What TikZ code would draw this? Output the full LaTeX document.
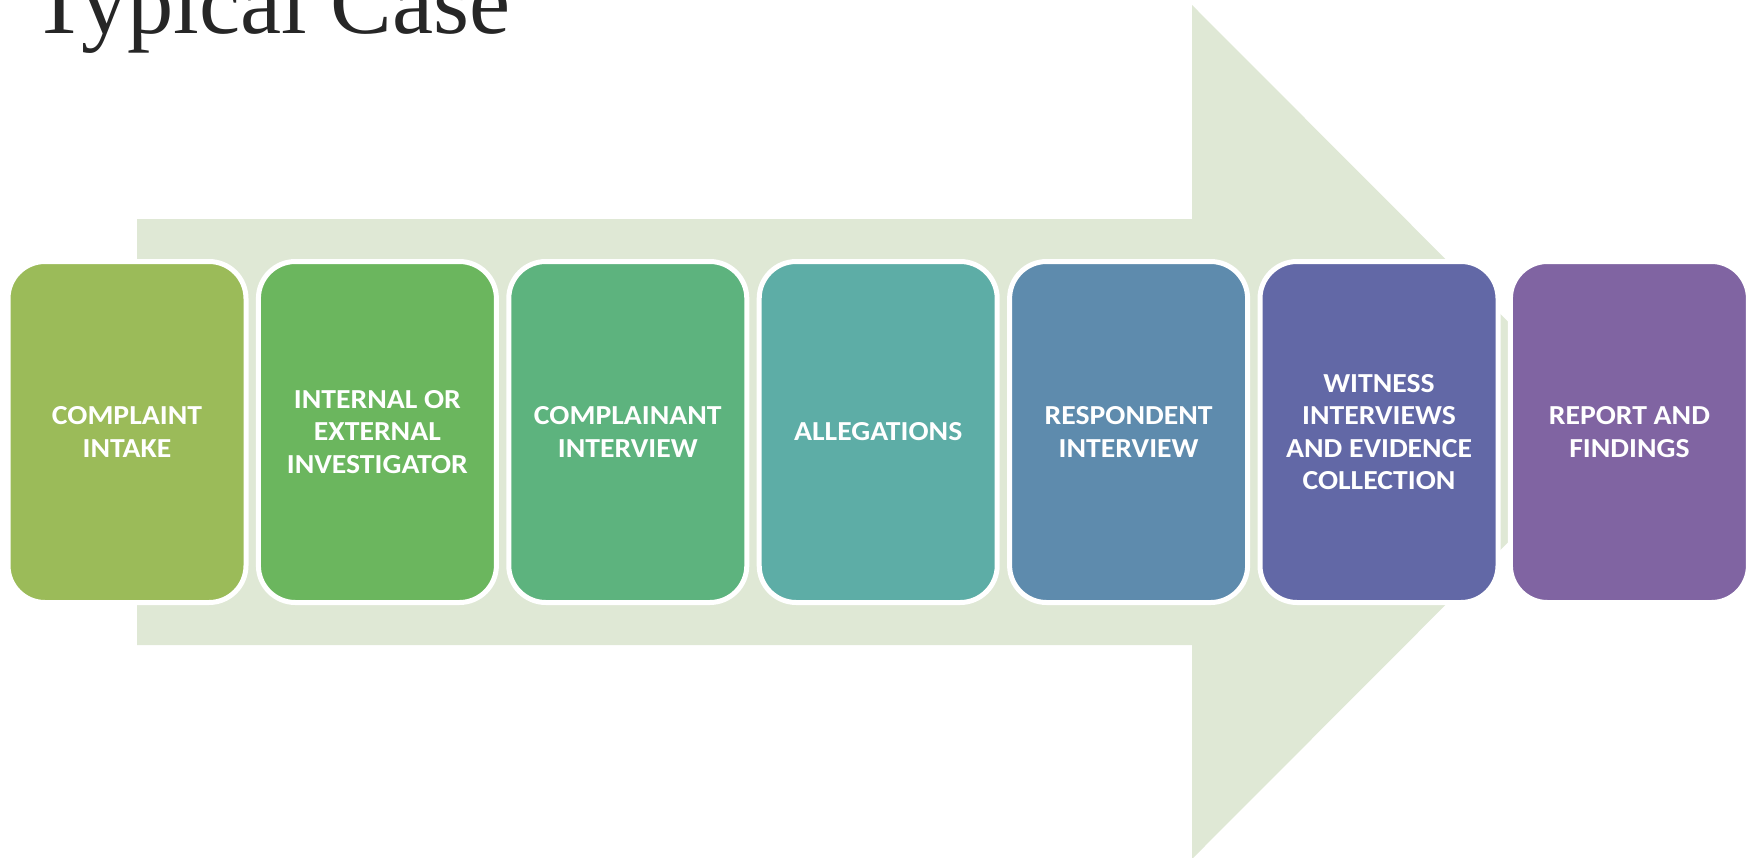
\documentclass[tikz,border=0pt]{standalone}
\usepackage{fontspec}
\setmainfont{Carlito}
\newfontfamily\boxfont[FakeStretch=1.08]{Carlito}
\newfontfamily\titlefont{Liberation Serif}
\definecolor{arrowbg}{HTML}{DFE8D5}
\definecolor{cA}{HTML}{9BBB59}
\definecolor{cB}{HTML}{6BB65E}
\definecolor{cC}{HTML}{5DB37E}
\definecolor{cD}{HTML}{5DADA6}
\definecolor{cE}{HTML}{5E8BAD}
\definecolor{cF}{HTML}{6268A6}
\definecolor{cG}{HTML}{8064A2}
\definecolor{titlegray}{HTML}{262626}
\tikzset{
  stepbox/.style={draw=white, line width=5pt, rounded corners=37pt,
    minimum width=238pt, minimum height=341pt, inner sep=0pt,
    text=white, align=center,
    font=\boxfont\bfseries\fontsize{27.5}{32.4}\selectfont},
  bigarrow/.style={fill=arrowbg, draw=none},
  titletext/.style={anchor=base west, inner sep=0pt, text=titlegray,
    font=\titlefont\fontsize{92.5}{100}\selectfont}
}
\begin{document}
\begin{tikzpicture}[x=1pt,y=-1pt]
\useasboundingbox (0,0) rectangle (1750,857);
\fill[bigarrow] (137,219) -- (1192,219) -- (1192,5) -- (1618,432) -- (1192,859) -- (1192,645) -- (137,645) -- cycle;
\node[titletext] (title) at (31,33) {Typical Case};
\node[stepbox, fill=cA] (s1) at (127.0,432) {COMPLAINT\\INTAKE};
\node[stepbox, fill=cB] (s2) at (377.4,432) {INTERNAL OR\\EXTERNAL\\INVESTIGATOR};
\node[stepbox, fill=cC] (s3) at (627.8,432) {COMPLAINANT\\INTERVIEW};
\node[stepbox, fill=cD] (s4) at (878.2,432) {ALLEGATIONS};
\node[stepbox, fill=cE] (s5) at (1128.6,432) {RESPONDENT\\INTERVIEW};
\node[stepbox, fill=cF] (s6) at (1379.0,432) {WITNESS\\INTERVIEWS\\AND EVIDENCE\\COLLECTION};
\node[stepbox, fill=cG] (s7) at (1629.4,432) {REPORT AND\\FINDINGS};
\end{tikzpicture}
\end{document}
